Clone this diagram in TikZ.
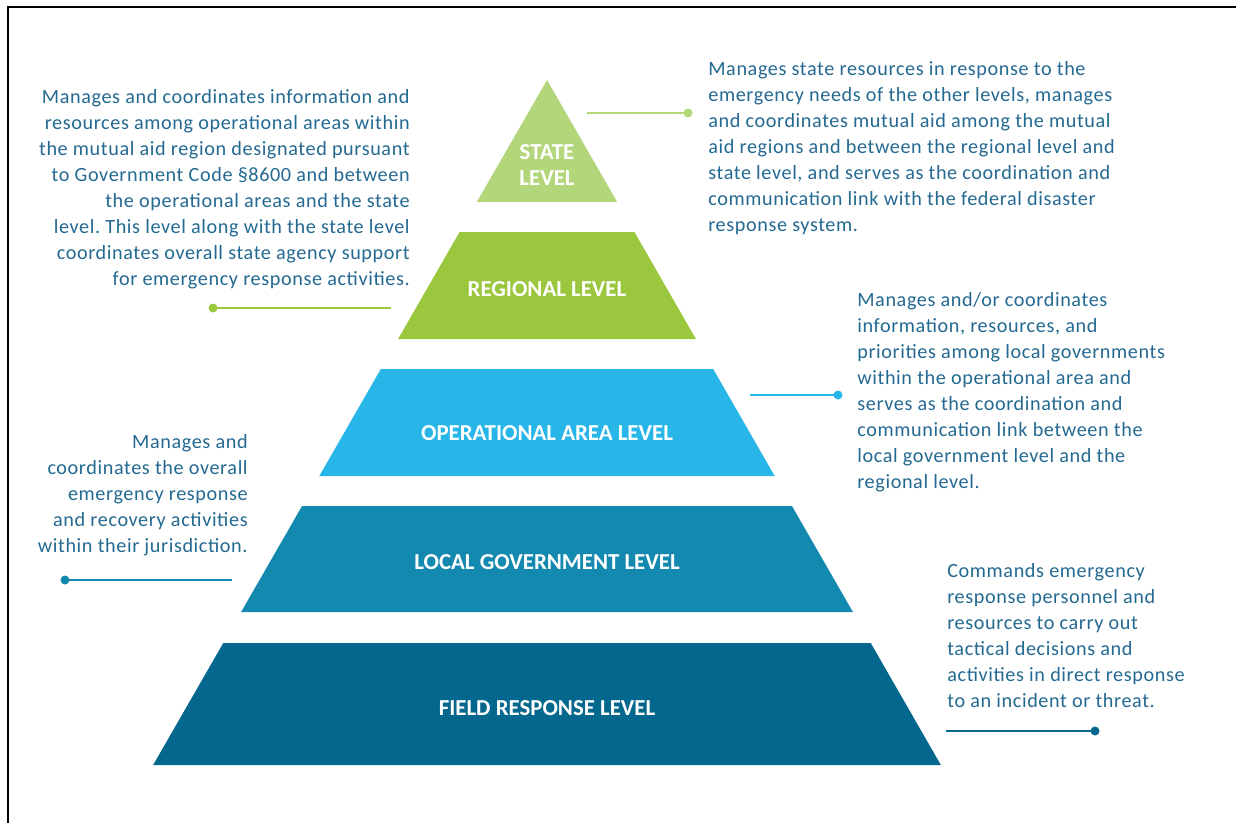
\documentclass[tikz,border=0pt]{standalone}
\usepackage{fontspec}
\setmainfont{Carlito}
\frenchspacing
\definecolor{statecol}{RGB}{180,214,122}
\definecolor{regcol}{RGB}{155,199,62}
\definecolor{opcol}{RGB}{40,181,232}
\definecolor{loccol}{RGB}{20,137,175}
\definecolor{fieldcol}{RGB}{4,103,142}
\definecolor{infocol}{RGB}{35,105,145}

\begin{document}
\begin{tikzpicture}[x=0.02cm,y=-0.02cm,
  lvl/.style={text=white,font=\fontsize{13}{14.8}\selectfont\bfseries,align=center},
  info/.style={text=infocol,font=\fontsize{11.5}{14.8}\selectfont\addfontfeature{LetterSpace=3},inner sep=0pt},
  lead/.style={line width=0.9pt}]
\useasboundingbox (0,0) rectangle (1236,823);
\draw [line width=1.2pt] (8,823) -- (8,7) -- (1236,7);

% pyramid, one slope for all bands
\fill [statecol] (547,80) -- (617.2,202) -- (476.8,202) -- cycle;
\foreach \t/\b/\c in {232/339/regcol, 369/476/opcol, 506/612/loccol, 643/765/fieldcol}
  \fill [\c] ({547-0.575*(\t-80)},\t) -- ({547+0.575*(\t-80)},\t)
    -- ({547+0.575*(\b-80)},\b) -- ({547-0.575*(\b-80)},\b) -- cycle;

\node [lvl] (state) at (547,165) {STATE\\LEVEL};
\node [lvl] (regional) at (547,289) {REGIONAL LEVEL};
\node [lvl] (oparea) at (547,433) {OPERATIONAL AREA LEVEL};
\node [lvl] (localgov) at (547,562) {LOCAL GOVERNMENT LEVEL};
\node [lvl] (field) at (547,708) {FIELD RESPONSE LEVEL};

% descriptions
\node [info,anchor=north east,align=right] (reginfo) at (410,89) {Manages and coordinates information and\\
resources among operational areas within\\
the mutual aid region designated pursuant\\
to Government Code §8600 and between\\
the operational areas and the state\\
level. This level along with the state level\\
coordinates overall state agency support\\
for emergency response activities.};
\node [info,anchor=north west,align=left] (stateinfo) at (708,61) {Manages state resources in response to the\\
emergency needs of the other levels, manages\\
and coordinates mutual aid among the mutual\\
aid regions and between the regional level and\\
state level, and serves as the coordination and\\
communication link with the federal disaster\\
response system.};
\node [info,anchor=north west,align=left] (opinfo) at (857,292) {Manages and/or coordinates\\
information, resources, and\\
priorities among local governments\\
within the operational area and\\
serves as the coordination and\\
communication link between the\\
local government level and the\\
regional level.};
\node [info,anchor=north east,align=right] (locinfo) at (248,434) {Manages and\\
coordinates the overall\\
emergency response\\
and recovery activities\\
within their jurisdiction.};
\node [info,anchor=north west,align=left] (fieldinfo) at (947,563) {Commands emergency\\
response personnel and\\
resources to carry out\\
tactical decisions and\\
activities in direct response\\
to an incident or threat.};

% leader lines
\coordinate (st-a) at (587,113); \coordinate (st-b) at (688,113);
\coordinate (rg-a) at (391,308); \coordinate (rg-b) at (213,308);
\coordinate (op-a) at (750,395); \coordinate (op-b) at (838,395);
\coordinate (lg-a) at (232,580); \coordinate (lg-b) at (65,580);
\coordinate (fr-a) at (946,731); \coordinate (fr-b) at (1095,731);
\draw [lead,statecol] (st-a) -- (st-b); \fill [statecol] (st-b) circle (4.5);
\draw [lead,regcol] (rg-a) -- (rg-b); \fill [regcol] (rg-b) circle (4.5);
\draw [lead,opcol] (op-a) -- (op-b); \fill [opcol] (op-b) circle (4.5);
\draw [lead,loccol] (lg-a) -- (lg-b); \fill [loccol] (lg-b) circle (4.5);
\draw [lead,fieldcol] (fr-a) -- (fr-b); \fill [fieldcol] (fr-b) circle (4.5);
\end{tikzpicture}
\end{document}
